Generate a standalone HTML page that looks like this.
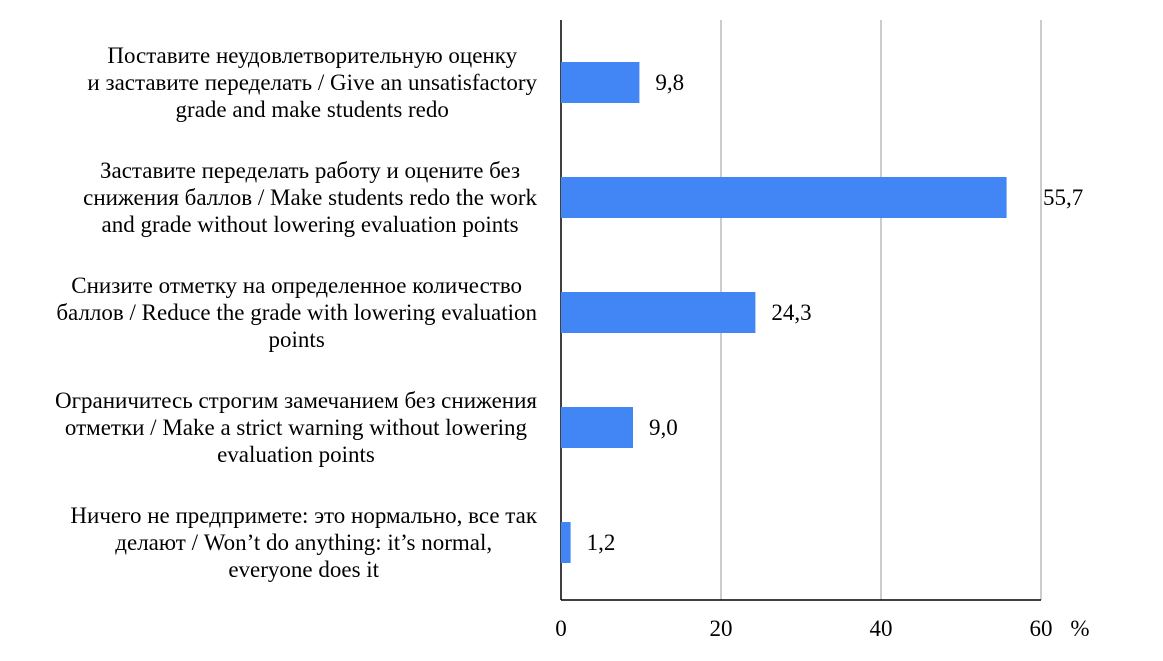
<!DOCTYPE html>
<html><head><meta charset="utf-8"><style>
body{margin:0;background:#fff;width:1163px;height:656px;overflow:hidden;font-family:"Liberation Serif",serif;}
text{font-family:"Liberation Serif",serif !important;}
</style></head><body>
<svg width="1163" height="656" xmlns="http://www.w3.org/2000/svg" style="font-family:'Liberation Serif',serif">
<g id="grid"></g><g id="bars"></g><g id="labels"></g><g id="ticks"></g>
</svg>
<script>
const categories=[
["Поставите неудовлетворительную оценку","и заставите переделать / Give an unsatisfactory","grade and make students redo"],
["Заставите переделать работу и оцените без","снижения баллов / Make students redo the work","and grade without lowering evaluation points"],
["Снизите отметку на определенное количество","баллов / Reduce the grade with lowering evaluation","points"],
["Ограничитесь строгим замечанием без снижения","отметки / Make a strict warning without lowering","evaluation points"],
["Ничего не предпримете: это нормально, все так","делают / Won’t do anything: it’s normal,","everyone does it"]];
const values=[9.8,55.7,24.3,9.0,1.2];
const valueLabels=["9,8","55,7","24,3","9,0","1,2"];
const ticks=[0,20,40,60];
const NS="http://www.w3.org/2000/svg";
const xs=v=>561+v*8;
const plotTop=20,plotBottom=600;
const yc=i=>82+115*i;
function mk(t,a,p){const e=document.createElementNS(NS,t);for(const k in a)e.setAttribute(k,a[k]);if(t==='text')e.setAttribute('font-family',"'Liberation Serif', serif");document.getElementById(p).appendChild(e);return e;}
ticks.forEach(t=>{
const l=mk('line',{x1:xs(t),x2:xs(t),y1:plotTop,y2:plotBottom,stroke:t===0?'#000':'#999','stroke-width':t===0?1.5:1},'grid');


const tx=mk('text',{x:xs(t),y:636,'text-anchor':'middle','font-size':23,fill:'#000'},'ticks');
tx.textContent=t;


});
const base=mk('line',{x1:xs(0),x2:xs(ticks[ticks.length-1]),y1:plotBottom,y2:plotBottom,stroke:'#000','stroke-width':1.5},'grid');


const pct=mk('text',{x:1080,y:636,'text-anchor':'middle','font-size':23},'ticks');pct.textContent='%';


const maxX=xs(ticks[ticks.length-1]);
values.forEach((v,i)=>{
const c=yc(i);
const r=mk('rect',{x:xs(0),y:c-20,width:xs(v)-xs(0),height:41,fill:'#4285f4'},'bars');


let lx=xs(v)+16;
if(lx<maxX+4 && lx+42>maxX-2) lx=maxX+2;
const t=mk('text',{x:lx,y:c+8,'font-size':23},'labels');t.textContent=valueLabels[i];


const lines=categories[i].map((s,j)=>{
const ln=mk('text',{x:0,y:c+8+(j-1)*27,'text-anchor':'middle','font-size':23},'labels');ln.textContent=s;


return ln;});
const w=Math.max(...lines.map(l=>l.getComputedTextLength()));
lines.forEach(l=>l.setAttribute('x',537-w/2));
});
</script>
</body></html>
